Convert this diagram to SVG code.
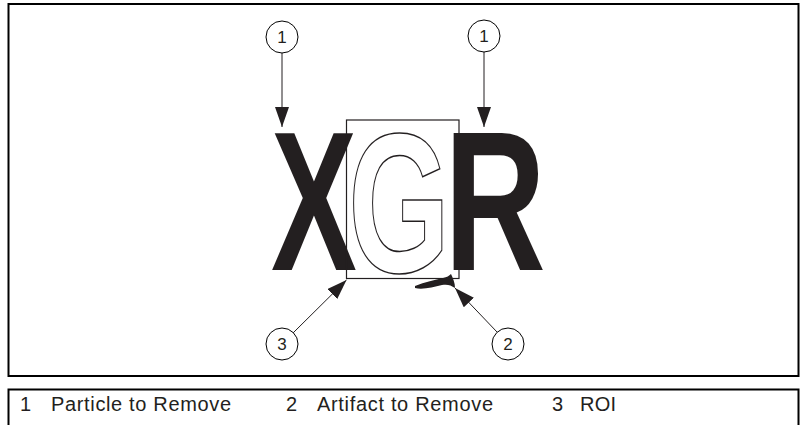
<svg xmlns="http://www.w3.org/2000/svg" width="801" height="425" viewBox="0 0 801 425">
<style>
.frame{fill:none;stroke:#000;stroke-width:2}
.callout circle{fill:#fff;stroke:#000;stroke-width:1}
.num{font-family:"Liberation Sans",Arial,sans-serif;font-size:17px;fill:#231f20;text-anchor:middle}
.big{font-family:"Liberation Sans",Arial,sans-serif;font-size:198px;font-weight:bold;text-anchor:middle}
.leg{font-family:"Liberation Sans",Arial,sans-serif;font-size:20px;fill:#231f20}
.conn line{stroke:#231f20;stroke-width:1}
</style>
<defs>
<marker id="ah" viewBox="0 0 20 14" refX="20" refY="7" markerWidth="20" markerHeight="14" markerUnits="userSpaceOnUse" orient="auto">
<path d="M0,0 L20,7 L0,14 Z" fill="#231f20"/>
</marker>
</defs>
<rect width="801" height="425" fill="#fff"/>
<rect class="frame" x="8.5" y="4" width="790" height="372"/>
<path class="frame" d="M8.5,425 V389.5 H798.5 V425"/>

<g id="letter-X"><text class="big" fill="#231f20" transform="translate(314,270) scale(0.65,1)">X</text></g>
<g id="letter-R"><text class="big" fill="#231f20" transform="translate(495,270) scale(0.71,1)">R</text></g>
<g id="roi"><rect x="346.5" y="120" width="112.5" height="158.5" fill="none" stroke="#231f20" stroke-width="1.2"/></g>
<g id="letter-G"><text class="big" fill="#fff" stroke="#231f20" stroke-width="1.5" transform="translate(399,272) scale(0.66,1)">G</text></g>
<g id="artifact"><path d="M415,286 C425,282 435,280 443,278 C447,277 449,276 451,274 C453,278 455,283 455,288 C451,285 447,284 442,285 C433,287 423,290 415,288 Z" fill="#231f20"/></g>

<g id="connectors" class="conn">
<line x1="282" y1="53" x2="282" y2="127" marker-end="url(#ah)"/>
<line x1="484" y1="52" x2="484" y2="127" marker-end="url(#ah)"/>
<line x1="293" y1="333" x2="346.5" y2="280" marker-end="url(#ah)"/>
<line x1="497" y1="332" x2="455" y2="288" marker-end="url(#ah)"/>
</g>

<g id="callout-1a" class="callout"><circle cx="282" cy="37" r="16"/><text class="num" x="282" y="43">1</text></g>
<g id="callout-1b" class="callout"><circle cx="484" cy="36" r="16"/><text class="num" x="484" y="42">1</text></g>
<g id="callout-3" class="callout"><circle cx="282" cy="344" r="16"/><text class="num" x="282" y="350">3</text></g>
<g id="callout-2" class="callout"><circle cx="508" cy="344" r="16"/><text class="num" x="508" y="350">2</text></g>

<g id="legend">
<text class="leg" x="20" y="411">1</text>
<text class="leg" x="51" y="411" textLength="180">Particle to Remove</text>
<text class="leg" x="286" y="411">2</text>
<text class="leg" x="317" y="411" textLength="176">Artifact to Remove</text>
<text class="leg" x="552" y="411">3</text>
<text class="leg" x="580" y="411" textLength="36">ROI</text>
</g>
</svg>
